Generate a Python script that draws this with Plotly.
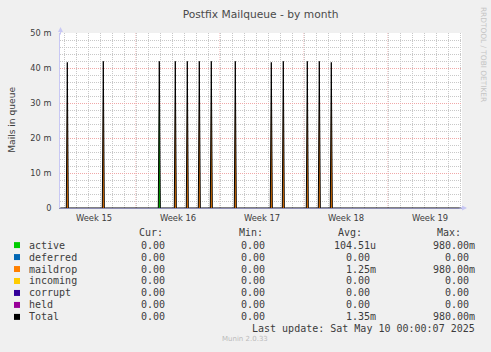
import pandas as pd
import plotly.graph_objects as go

# ---------------- data ----------------
range_start = "2025-04-07 16:00"
range_end = "2025-05-11 04:00"
sample_start = "2025-04-07 16:36"
sample_end = "2025-05-11 02:36"

maildrop_times = ["2025-04-08 06:36", "2025-04-11 06:36", "2025-04-17 06:36",
                  "2025-04-18 06:36", "2025-04-19 06:36", "2025-04-20 06:36",
                  "2025-04-22 06:36", "2025-04-25 06:36", "2025-04-26 06:36",
                  "2025-04-28 06:36", "2025-04-29 06:36", "2025-04-30 06:36"]
maildrop_peaks = [0.0416, 0.0419, 0.0419, 0.0419, 0.0419, 0.0419,
                  0.0419, 0.0416, 0.0419, 0.0419, 0.0419, 0.0416]
active_times = ["2025-04-15 22:36"]
active_peaks = [0.0419]

week_starts = ["2025-04-14", "2025-04-21", "2025-04-28", "2025-05-05"]
week_label_pos = ["2025-04-10 12:00", "2025-04-17 12:00", "2025-04-24 12:00",
                  "2025-05-01 12:00", "2025-05-08 12:00"]
week_labels = ["Week 15", "Week 16", "Week 17", "Week 18", "Week 19"]

y_tickvals = [0, 0.01, 0.02, 0.03, 0.04, 0.05]
y_ticktext = ["0", "10 m", "20 m", "30 m", "40 m", "50 m"]

legend_names = ["active", "deferred", "maildrop", "incoming", "corrupt", "held", "Total"]
legend_colors = ["#00CC00", "#0066B3", "#FF8000", "#FFCC00", "#330099", "#990099", "#000000"]
cur_vals = ["0.00", "0.00", "0.00", "0.00", "0.00", "0.00", "0.00"]
min_vals = ["0.00", "0.00", "0.00", "0.00", "0.00", "0.00", "0.00"]
avg_vals = ["104.51u", "0.00", "1.25m", "0.00", "0.00", "0.00", "1.35m"]
max_vals = ["980.00m", "0.00", "980.00m", "0.00", "0.00", "0.00", "980.00m"]

# ---------------- series ----------------
idx = pd.date_range(sample_start, sample_end, freq="2h")
maildrop = pd.Series(0.0, index=idx)
maildrop[pd.to_datetime(maildrop_times)] = maildrop_peaks
active = pd.Series(0.0, index=idx)
active[pd.to_datetime(active_times)] = active_peaks
total = maildrop + active

# ---------------- geometry ----------------
W_FIG, H_FIG = 491, 352
L, R, T, B = 60, 462, 33, 208.5
PW, PH = R - L, B - T


def px(x):
    return (x - L) / PW


def py(y):
    return (B - y) / PH


FONT = "DejaVu Sans"
MONO = "DejaVu Sans Mono"
TXT = "#3C3C3C"

fig = go.Figure()
fig.add_trace(go.Scatter(x=active.index, y=active.values, mode="lines",
                         line=dict(width=0, color="#00CC00"), fill="tozeroy",
                         fillcolor="#00CC00", hoverinfo="skip"))
fig.add_trace(go.Scatter(x=maildrop.index, y=maildrop.values, mode="lines",
                         line=dict(width=0, color="#FF8000"), fill="tozeroy",
                         fillcolor="#FF8000", hoverinfo="skip"))
fig.add_trace(go.Scatter(x=total.index, y=total.values, mode="lines",
                         line=dict(width=1, color="#000000"), hoverinfo="skip"))

minor_grid = "#C8C8C8"
major_grid = "#F0A8A8"

fig.update_layout(
    width=W_FIG, height=H_FIG,
    margin=dict(l=L, r=W_FIG - R, t=T, b=H_FIG - B, pad=0),
    paper_bgcolor="#F0F0F0", plot_bgcolor="#FFFFFF",
    showlegend=False,
    title=dict(text="Postfix Mailqueue - by month", x=(245 / W_FIG), xanchor="center",
               y=1 - 14 / H_FIG, yanchor="middle", yref="container", xref="paper",
               font=dict(family=FONT, size=10.7, color="#4A4A4A")),
    xaxis=dict(type="date", range=[range_start, range_end],
               tickmode="array", tickvals=week_label_pos, ticktext=week_labels,
               showgrid=False, ticks="", zeroline=False,
               tickfont=dict(family=FONT, size=8.4, color=TXT),
               showline=True, linecolor="#8C8CB4", linewidth=1,
               layer="above traces", ticklabelstandoff=2,
               minor=dict(dtick=86400000, tick0="2025-04-07", showgrid=True,
                          gridcolor=minor_grid, griddash="1px,1px", gridwidth=1, ticks="")),
    yaxis=dict(range=[0, 0.05], tickmode="array", tickvals=y_tickvals, ticktext=y_ticktext,
               showgrid=True, gridcolor=major_grid, griddash="1px,1px", gridwidth=1,
               ticks="", zeroline=False,
               tickfont=dict(family=FONT, size=8.2, color=TXT),
               showline=True, linecolor="#C8C8F4", linewidth=1, ticklabelstandoff=6,
               minor=dict(dtick=0.002, showgrid=True, gridcolor=minor_grid,
                          griddash="1px,1px", gridwidth=1, ticks="")),
)

# red weekly grid lines
for ws in week_starts:
    fig.add_shape(type="line", xref="x", yref="paper", x0=ws, x1=ws, y0=0, y1=1,
                  line=dict(color=major_grid, width=1, dash="1px,1px"), layer="below")

ann = []
# axis arrows
ann.append(dict(xref="paper", yref="paper", x=px(60.5), y=py(27), ax=0, ay=9,
                showarrow=True, arrowhead=2, arrowsize=1, arrowwidth=1,
                arrowcolor="#C8C8F4", text=""))
ann.append(dict(xref="paper", yref="paper", x=px(467), y=py(208.5), ax=-9, ay=0,
                showarrow=True, arrowhead=2, arrowsize=1, arrowwidth=1,
                arrowcolor="#C8C8F4", text=""))
# y title
ann.append(dict(xref="paper", yref="paper", x=px(12), y=py(120), text="Mails in queue",
                textangle=-90, showarrow=False, xanchor="center", yanchor="middle",
                font=dict(family=FONT, size=9.1, color=TXT)))
# rrdtool watermark
ann.append(dict(xref="paper", yref="paper", x=px(483), y=py(54), text="RRDTOOL / TOBI OETIKER",
                textangle=90, showarrow=False, xanchor="center", yanchor="middle",
                font=dict(family=FONT, size=7.4, color="#C4C4C4")))

# legend
ROW0 = 245.7
ROWH = 12.0
CW = 6.02
headers = [("Cur:", 165.3), ("Min:", 265.0), ("Avg:", 364.0), ("Max:", 463.3)]
for h, xr in headers:
    ann.append(dict(xref="paper", yref="paper", x=px(xr), y=py(233.3), text=h,
                    showarrow=False, xanchor="right", yanchor="middle",
                    font=dict(family=MONO, size=10, color=TXT)))

col_right = [173.3, 273.3, 377.7, 477.3]

for i, name in enumerate(legend_names):
    yy = ROW0 + i * ROWH
    fig.add_shape(type="rect", xref="paper", yref="paper",
                  x0=px(14), x1=px(20), y0=py(yy - 3), y1=py(yy + 3),
                  fillcolor=legend_colors[i], line=dict(width=0))
    ann.append(dict(xref="paper", yref="paper", x=px(26.5), y=py(yy), text=name,
                    showarrow=False, xanchor="left", yanchor="middle",
                    font=dict(family=MONO, size=10, color=TXT)))
    vals = [cur_vals[i], min_vals[i], avg_vals[i], max_vals[i]]
    for v, xr in zip(vals, col_right):
        xx = xr if v[-1].isalpha() else xr - CW
        ann.append(dict(xref="paper", yref="paper", x=px(xx), y=py(yy), text=v,
                        showarrow=False, xanchor="right", yanchor="middle",
                        font=dict(family=MONO, size=10, color=TXT)))

ann.append(dict(xref="paper", yref="paper", x=px(477.3), y=py(ROW0 + 7 * ROWH),
                text="Last update: Sat May 10 00:00:07 2025",
                showarrow=False, xanchor="right", yanchor="middle",
                font=dict(family=MONO, size=10, color=TXT)))
ann.append(dict(xref="paper", yref="paper", x=px(245), y=py(340.3), text="Munin 2.0.33",
                showarrow=False, xanchor="center", yanchor="middle",
                font=dict(family=FONT, size=7, color="#BBBBBB")))

fig.update_layout(annotations=ann)
fig.write_html("out.html")
